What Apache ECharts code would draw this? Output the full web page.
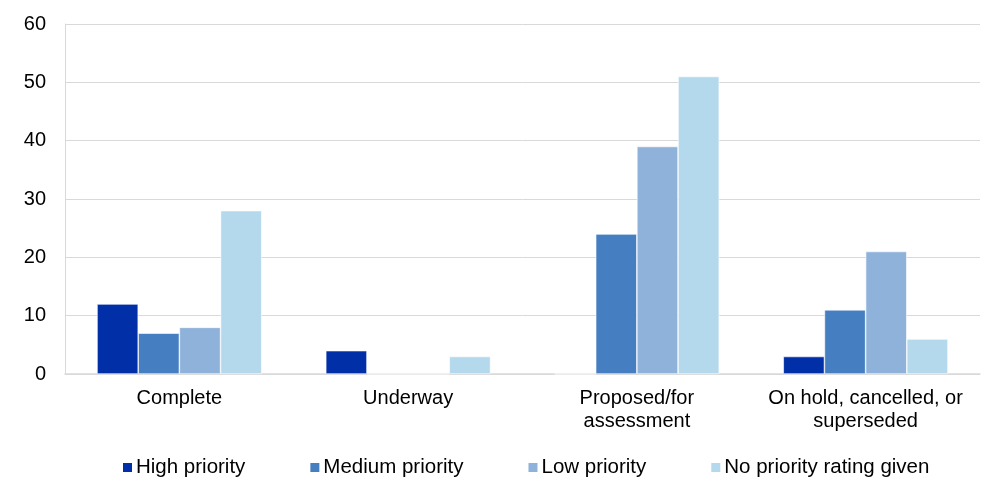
<!DOCTYPE html>
<html><head><meta charset="utf-8">
<script src="https://cdn.jsdelivr.net/npm/echarts@6/dist/echarts.min.js"></script>
<style>html,body{margin:0;padding:0;background:#fff}#c{width:1003px;height:492px}</style>
</head><body><div id="c"></div>
<script>
const categories = ['Complete', 'Underway', 'Proposed/for\nassessment', 'On hold, cancelled, or\nsuperseded'];
const seriesNames = ['High priority', 'Medium priority', 'Low priority', 'No priority rating given'];
const highPriority = [12, 4, 0, 3];
const mediumPriority = [7, 0, 24, 11];
const lowPriority = [8, 0, 39, 21];
const noPriority = [28, 3, 51, 6];
const colors = ['#002FA7', '#457FC1', '#8FB2DB', '#B4D8EC'];
const values = [highPriority, mediumPriority, lowPriority, noPriority];
const font = 'Liberation Sans, Arial, sans-serif';
const chart = echarts.init(document.getElementById('c'));
chart.setOption({
  animation: false,
  grid: {left: 65, right: 23, top: 24, bottom: 118, containLabel: false},
  legend: {
    top: 452, left: 116, itemWidth: 11, itemHeight: 11, itemGap: 63, icon: 'rect',
    textStyle: {fontFamily: font, fontSize: 20.5, color: '#000', padding: [0, 0, 0, -2]},
    data: seriesNames
  },
  xAxis: {
    type: 'category', data: categories,
    axisLine: {lineStyle: {color: '#d9d9d9', width: 1.5}},
    axisTick: {show: false},
    axisLabel: {fontFamily: font, fontSize: 20, color: '#000', margin: 13, lineHeight: 23, interval: 0}
  },
  yAxis: {
    type: 'value', min: 0, max: 60, interval: 10,
    axisLine: {show: true, lineStyle: {color: '#d9d9d9'}},
    splitLine: {lineStyle: {color: '#d9d9d9'}},
    axisLabel: {fontFamily: font, fontSize: 20, color: '#000', margin: 19}
  },
  series: seriesNames.map((n, i) => ({
    name: n, type: 'bar', data: values[i], barGap: '0%', barCategoryGap: '28%',
    itemStyle: {color: colors[i], borderColor: '#fff', borderWidth: 0.6}
  }))
});
</script></body></html>
